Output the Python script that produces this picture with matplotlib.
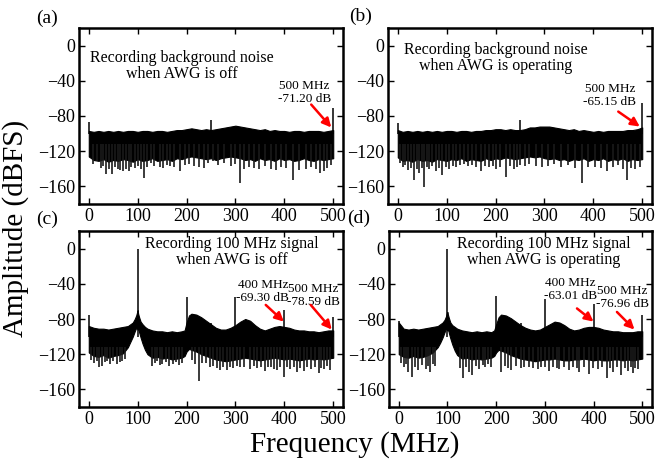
import numpy as np
import matplotlib.pyplot as plt

plt.rcParams['font.family'] = ['Liberation Serif', 'DejaVu Serif']

# ---------------- data ----------------
# top row: noise band (upper / lower edge of the dense trace) every 10 MHz
grid_top = np.arange(0, 501, 10)

top_a = [-97, -98, -97, -98, -97, -98, -97, -98, -97, -97, -98, -97, -97, -98, -97, -97, -98,
         -97, -96, -96, -95, -94, -95, -96, -95, -96, -95, -94, -93, -92, -91, -92, -93, -94,
         -95, -96, -95, -97, -96, -97, -97, -98, -97, -97, -98, -97, -97, -97, -98, -97, -96]
bot_a = [-126, -130, -131, -129, -132, -130, -131, -129, -130, -132, -129, -131, -130, -128, -131,
         -130, -129, -131, -128, -129, -127, -126, -127, -128, -129, -128, -130, -128, -127, -126,
         -127, -128, -130, -129, -131, -128, -130, -129, -131, -128, -130, -129, -131, -130, -128,
         -130, -131, -129, -130, -129, -128]
spike_f_a = [8, 16, 24, 30, 36, 42, 47, 53, 59, 64, 69, 77, 82, 87, 94, 100, 106, 113, 120, 127,
             134, 145, 152, 159, 166, 174, 186, 196, 206, 216, 226, 236, 243, 254, 264, 277, 290,
             300, 310, 318, 328, 338, 349, 360, 373, 382, 393, 404, 418, 430, 444, 455, 465, 472,
             481, 488, 495]
spike_db_a = [-135, -131, -139, -137, -146, -140, -146, -138, -140, -141, -143, -140, -142, -138,
              -139, -137, -140, -150, -138, -133, -137, -138, -139, -136, -137, -138, -142, -136,
              -135, -137, -138, -139, -133, -131, -136, -133, -137, -135, -156, -140, -138, -139,
              -140, -137, -140, -141, -138, -139, -153, -141, -140, -138, -140, -145, -142, -139,
              -136]
peak_f_a = [0, 250, 500]
peak_db_a = [-87, -84, -71]

top_b = [-96, -98, -97, -98, -97, -98, -97, -98, -97, -98, -97, -97, -98, -97, -97, -98, -97,
         -97, -96, -96, -95, -95, -96, -95, -96, -96, -95, -93, -93, -92, -92, -92, -93, -94,
         -95, -96, -95, -97, -96, -97, -98, -97, -98, -97, -97, -97, -97, -96, -96, -95, -93]
bot_b = [-127, -131, -130, -132, -129, -131, -130, -132, -129, -130, -131, -129, -130, -128, -131,
         -129, -130, -131, -128, -130, -128, -129, -127, -128, -129, -128, -127, -126, -127, -126,
         -128, -129, -128, -130, -129, -131, -129, -130, -128, -131, -129, -130, -128, -131, -129,
         -130, -128, -131, -129, -130, -129]
spike_f_b = [5, 10, 15, 20, 27, 34, 39, 44, 49, 54, 59, 64, 71, 78, 84, 91, 98, 105, 112, 119, 128,
             136, 144, 152, 161, 170, 179, 187, 194, 200, 210, 221, 229, 237, 244, 251, 260, 268,
             282, 295, 307, 319, 334, 349, 362, 376, 390, 404, 415, 427, 440, 451, 460, 468, 477,
             485, 495]
spike_db_b = [-133, -138, -136, -141, -139, -153, -140, -145, -139, -161, -138, -140, -137, -142,
              -139, -147, -138, -140, -137, -138, -136, -135, -137, -136, -138, -143, -137, -138,
              -137, -140, -138, -149, -137, -140, -138, -136, -137, -135, -137, -138, -137, -135,
              -138, -136, -139, -156, -138, -138, -139, -142, -138, -136, -140, -153, -139, -140,
              -138]
peak_f_b = [0, 250, 500]
peak_db_b = [-88, -85, -65]

# bottom row: 100 MHz tone, finer sampling around the carrier
grid_c = [0, 10, 20, 30, 40, 50, 60, 70, 80, 85, 90, 94, 97, 99, 100, 101, 103, 106, 110, 115, 120,
          130, 140, 150, 160, 170, 180, 190, 196, 200, 205, 210, 220, 230, 240, 250, 260, 270, 280,
          290, 300, 310, 320, 330, 340, 350, 360, 370, 380, 390, 400, 410, 420, 430, 440, 450, 460,
          470, 480, 490, 500]
top_c = [-88, -90, -91, -91, -92, -91, -90, -89, -88, -86, -84, -80, -76, -72, -70, -74, -78, -83,
         -86, -89, -91, -93, -94, -94, -95, -94, -95, -94, -93, -84, -76, -74, -75, -78, -82, -86,
         -90, -92, -92, -90, -87, -83, -80, -82, -87, -91, -93, -91, -89, -88, -89, -90, -92, -93,
         -93, -94, -94, -95, -94, -93, -93]
bot_c = [-118, -122, -123, -121, -124, -122, -121, -119, -112, -106, -100, -94, -90, -90, -92,
         -90, -95, -101, -108, -115, -120, -124, -123, -125, -124, -126, -125, -124, -122, -117,
         -114, -115, -117, -120, -122, -124, -126, -127, -128, -127, -126, -125, -124, -125, -126,
         -127, -126, -125, -124, -125, -126, -125, -126, -127, -126, -125, -126, -125, -126, -125,
         -124]
spike_f_c = [5, 10, 16, 20, 28, 33, 38, 44, 50, 58, 63, 68, 74, 130, 136, 140, 145, 150, 158, 165,
             172, 178, 184, 190, 212, 218, 225, 232, 240, 248, 255, 262, 268, 275, 282, 289, 295,
             303, 310, 318, 330, 337, 345, 352, 360, 366, 372, 378, 385, 392, 400, 406, 412, 419,
             425, 432, 440, 447, 455, 462, 470, 476, 482, 488, 493]
spike_db_c = [-127, -130, -128, -134, -133, -129, -128, -131, -128, -131, -129, -128, -126, -133,
              -130, -128, -132, -131, -129, -133, -131, -129, -132, -130, -127, -131, -151, -130,
              -130, -134, -133, -136, -138, -135, -138, -134, -136, -133, -134, -135, -137, -133,
              -136, -134, -139, -134, -135, -137, -138, -134, -146, -135, -137, -134, -140, -136,
              -139, -135, -137, -134, -141, -136, -137, -133, -138]
peak_f_c = [0, 100, 200, 250, 300, 400, 500]
peak_db_c = [-76, 0, -55, -84, -55, -70, -78]

top_d = [-84, -91, -92, -91, -92, -91, -90, -89, -88, -86, -84, -81, -77, -73, -72, -75, -79, -84,
         -87, -89, -91, -93, -94, -95, -94, -95, -94, -95, -93, -86, -78, -75, -76, -79, -83, -87,
         -90, -92, -93, -92, -89, -86, -83, -84, -87, -91, -93, -92, -90, -89, -89, -90, -92, -93,
         -94, -94, -95, -95, -95, -94, -94]
bot_d = [-120, -123, -124, -122, -124, -123, -121, -118, -112, -107, -101, -95, -91, -91, -93,
         -91, -96, -102, -109, -116, -121, -125, -124, -126, -125, -126, -125, -124, -122, -118,
         -115, -116, -118, -121, -123, -125, -126, -127, -128, -127, -126, -126, -125, -126, -127,
         -127, -126, -126, -125, -126, -127, -126, -127, -127, -126, -126, -127, -126, -127, -126,
         -125]
spike_f_d = [5, 10, 15, 20, 27, 33, 40, 47, 55, 60, 65, 70, 75, 125, 132, 138, 145, 151, 158, 165,
             172, 178, 184, 190, 210, 218, 224, 231, 240, 250, 258, 268, 276, 285, 292, 300, 309,
             317, 325, 330, 340, 350, 358, 365, 370, 380, 390, 398, 410, 418, 427, 434, 440, 448,
             457, 464, 470, 476, 480, 486, 492]
spike_db_d = [-130, -135, -131, -140, -146, -134, -138, -132, -137, -133, -140, -131, -133, -136,
              -147, -134, -140, -144, -133, -137, -132, -135, -131, -134, -140, -133, -136, -138,
              -133, -136, -134, -134, -136, -137, -134, -135, -139, -134, -136, -137, -135, -138,
              -134, -136, -140, -135, -142, -136, -137, -134, -147, -136, -140, -135, -144, -136,
              -139, -135, -141, -136, -137]
peak_f_d = [0, 100, 200, 250, 300, 400, 500]
peak_db_d = [-82, 0, -54, -84, -57, -63, -76]

panels = [
    dict(tag='(a)', f=grid_top, top=top_a, bot=bot_a, sf=spike_f_a, sdb=spike_db_a,
         pf=peak_f_a, pdb=peak_db_a),
    dict(tag='(b)', f=grid_top, top=top_b, bot=bot_b, sf=spike_f_b, sdb=spike_db_b,
         pf=peak_f_b, pdb=peak_db_b),
    dict(tag='(c)', f=grid_c, top=top_c, bot=bot_c, sf=spike_f_c, sdb=spike_db_c,
         pf=peak_f_c, pdb=peak_db_c),
    dict(tag='(d)', f=grid_c, top=top_d, bot=bot_d, sf=spike_f_d, sdb=spike_db_d,
         pf=peak_f_d, pdb=peak_db_d),
]

titles = ['Recording background noise\nwhen AWG is off',
          'Recording background noise\nwhen AWG is operating',
          'Recording 100 MHz signal\nwhen AWG is off',
          'Recording 100 MHz signal\nwhen AWG is operating']
title_pos = [(190, -23), (200, -14), (293, -4), (298, -4)]

# marker labels: (text, x, y) and arrows: (tail, head)
notes = [
    [('500 MHz\n-71.20 dB', 441, -53)],
    [('500 MHz\n-65.15 dB', 434, -57)],
    [('400 MHz\n-69.30 dB', 356, -49), ('500 MHz\n-78.59 dB', 460, -53)],
    [('400 MHz\n-63.01 dB', 353, -46), ('500 MHz\n-76.96 dB', 459, -56)],
]
arrows = [
    [((455, -67), (496, -93))],
    [((451, -75), (495, -92))],
    [((362, -64), (399, -83)), ((454, -64), (497, -92))],
    [((366, -68), (400, -83)), ((448, -72), (484, -92))],
]

# ---------------- figure ----------------
fig = plt.figure(figsize=(6.57, 4.68), dpi=100)
W, H = 657, 468
boxes = [(79, 28, 343, 204), (388, 28, 652, 204), (79, 231, 343, 407), (389, 231, 652, 407)]
tag_pos = [(47, 18), (361, 16), (47, 219), (359, 218)]

for i, p in enumerate(panels):
    x0, y0, x1, y1 = boxes[i]
    ax = fig.add_axes([x0 / W, 1 - y1 / H, (x1 - x0) / W, (y1 - y0) / H])

    ax.vlines(p['sf'], p['sdb'], -112, color='#1a1a1a', lw=1.2)
    ax.fill_between(p['f'], p['bot'], p['top'], color='black', lw=0.8, edgecolor='black')
    ax.vlines(p['pf'], -100, p['pdb'], color='black', lw=1.1)

    ax.set_xlim(-20, 520)
    ax.set_ylim(-180, 20)
    ax.set_xticks([0, 100, 200, 300, 400, 500])
    ax.set_yticks([0, -40, -80, -120, -160])
    ax.tick_params(direction='in', top=True, right=True, length=4, width=1,
                   labelsize=13, pad=3)
    for s in ax.spines.values():
        s.set_linewidth(1.8)

    tx, ty = title_pos[i]
    ax.text(tx, ty, titles[i], ha='center', va='center', fontsize=11.5, linespacing=1.05)
    for txt, nx, ny in notes[i]:
        ax.text(nx, ny, txt, ha='center', va='center', fontsize=9.5, linespacing=1.1)
    for tail, head in arrows[i]:
        ax.annotate('', xy=head, xytext=tail,
                    arrowprops=dict(arrowstyle='-|>', color='red', lw=1.8, mutation_scale=13,
                                    shrinkA=0, shrinkB=0))

    fig.text(tag_pos[i][0] / W, 1 - tag_pos[i][1] / H, p['tag'], ha='center', va='center',
             fontsize=14)

fig.text(16 / W, 1 - 228 / H, 'Amplitude (dBFS)', rotation=90, ha='center', va='center',
         fontsize=21)
fig.text(355 / W, 1 - 445 / H, 'Frequency (MHz)', ha='center', va='center', fontsize=21)

fig.savefig('out.png', dpi=100)
